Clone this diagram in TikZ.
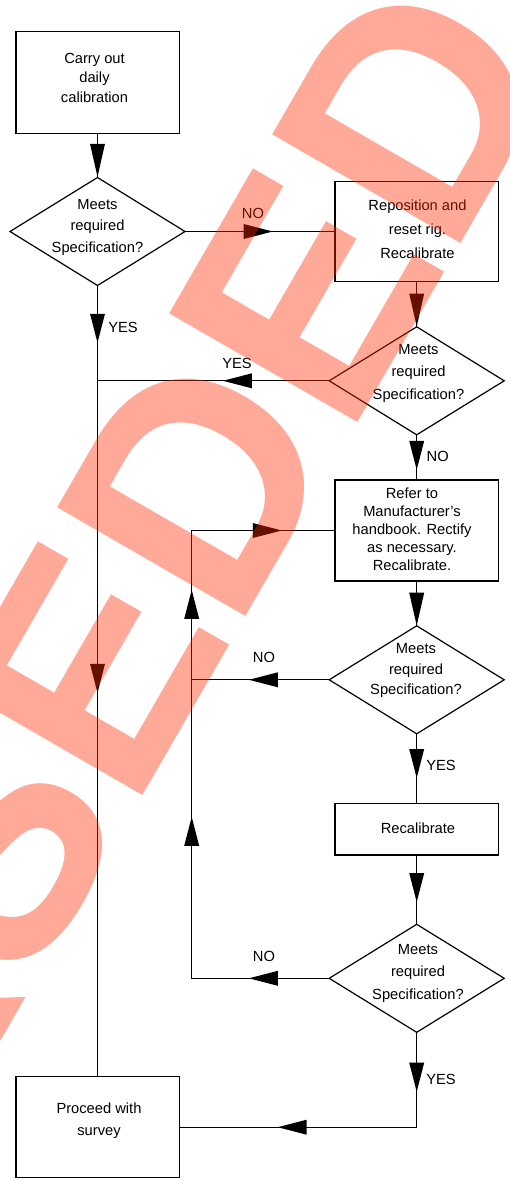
\documentclass[tikz,border=0pt]{standalone}
\usepackage{fontspec}
\setmainfont{Liberation Sans}
\usetikzlibrary{shapes.geometric,decorations.markings}
\definecolor{stampred}{RGB}{255,40,0}
\begin{document}
\begin{tikzpicture}[x=1pt,y=-1pt,
  box/.style={draw, line width=1.5pt, rectangle, minimum width=163.5pt,
    minimum height=#1, inner sep=0pt, outer sep=0pt},
  decision/.style={draw, line width=1.2pt, diamond, minimum width=175pt,
    minimum height=108pt, inner sep=0pt, outer sep=0pt},
  txt/.style={font=\fontsize{14.7pt}{#1}\selectfont, align=center, inner sep=0pt},
  lab/.style={font=\fontsize{14.7pt}{17pt}\selectfont, inner sep=0pt},
  conn/.style={line width=1.2pt},
  headat/.style={postaction={decorate, decoration={markings,
    mark=at position #1 with {\fill (0pt,0pt) -- (-29pt,7.5pt) -- (-29pt,-7.5pt) -- cycle;}}}},
  longheadat/.style={postaction={decorate, decoration={markings,
    mark=at position #1 with {\fill (0pt,0pt) -- (-33pt,7.5pt) -- (-33pt,-7.5pt) -- cycle;}}}},
  stamp/.style={font=\fontsize{316pt}{316pt}\selectfont\bfseries, text=stampred,
    text opacity=0.4, inner sep=0pt}
]
\useasboundingbox (0,0) rectangle (509,1180);
\fill[white] (0,0) rectangle (509,1180);

% process boxes
\node[box=101.6pt] (b1) at (97.5,82.5) {};
\node[box=100pt]   (b2) at (416.7,231.7) {};
\node[box=101pt]   (b3) at (416.7,530.5) {};
\node[box=51.7pt]  (b4) at (416.7,829.2) {};
\node[box=101pt]   (b5) at (97.5,1127.2) {};

% decisions
\node[decision] (d1) at (97.5,231.5) {};
\node[decision] (d2) at (416.7,380.8) {};
\node[decision] (d3) at (416.7,679.8) {};
\node[decision] (d4) at (416.7,978.3) {};

% texts
\node[txt=19.5pt] (t1) at (94.5,77.5) {Carry out\\daily\\calibration};
\node[txt=24pt]   (t2) at (417.5,229) {Reposition and\\reset rig.\\Recalibrate};
\node[txt=18pt]   (t3) at (412,529) {Refer to\\Manufacturer's\\handbook. Rectify\\as necessary.\\Recalibrate.};
\node[txt=17pt]   (t4) at (418,828.3) {Recalibrate};
\node[txt=21.7pt] (t5) at (99,1121) {Proceed with\\survey};
\node[txt=21.5pt] (s1) at (97.5,227) {Meets\\required\\Specification?};
\node[txt=22.5pt] (s2) at (418.5,373) {Meets\\required\\Specification?};
\node[txt=20.5pt] (s3) at (416,670.5) {Meets\\required\\Specification?};
\node[txt=22.5pt] (s4) at (418,973) {Meets\\required\\Specification?};

% loop-back column
\coordinate (loopx) at (191.7,0);

% connectors
\draw[conn, longheadat=43.5pt] (b1.south) -- (d1.north);
\draw[conn, headat=87.7pt] (d1.east) -- (d1.east -| b2.west);
\draw[conn, longheadat=44.8pt] (b2.south) -- (d2.north);
\draw[conn, headat=106.3pt] (d2.west) -- (d2.west -| d1.south);
\draw[conn, headat=57.3pt, headat=407.3pt] (d1.south) -- (b5.north);
\draw[conn, headat=35pt] (d2.south) -- (b3.north);
\draw[conn, longheadat=44.6pt] (b3.south) -- (d3.north);
\draw[conn, headat=80.3pt] (d3.west) -- (d3.west -| loopx);
\draw[conn, headat=44.2pt] (d3.south) -- (b4.north);
\draw[conn, headat=47pt] (b4.south) -- (d4.north);
\draw[conn, headat=80.3pt, headat=298.9pt, headat=525.9pt, headat=675.4pt]
  (d4.west) -- (d4.west -| loopx) -- (b3.west -| loopx) -- (b3.west);
\draw[conn, headat=59.4pt, headat=233.9pt] (d4.south) |- (b5.east);

% branch labels
\node[lab] (no1)  at (253,213) {NO};
\node[lab] (yes1) at (123,327) {YES};
\node[lab] (yes2) at (237,363) {YES};
\node[lab] (no2)  at (437.7,456.7) {NO};
\node[lab] (no3)  at (264,657.7) {NO};
\node[lab] (yes3) at (441,765) {YES};
\node[lab] (no4)  at (264,956.7) {NO};
\node[lab] (yes4) at (441,1079) {YES};

% overprinted status stamp
\begin{scope}
  \clip (0,0) rectangle (509,1180);
  \node[stamp, rotate=60, xscale=0.98, anchor=base east] (stampword) at (562.5,68) {SUPERSEDED};
\end{scope}
\end{tikzpicture}
\end{document}
